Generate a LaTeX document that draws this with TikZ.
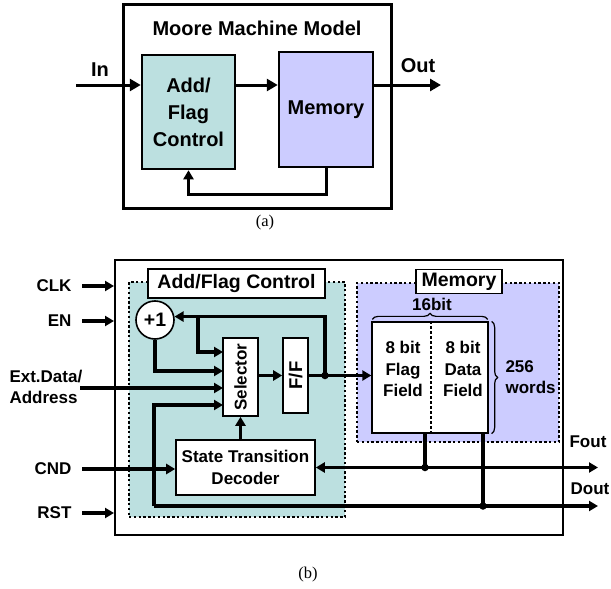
\documentclass[tikz,border=0pt]{standalone}
\usepackage{fontspec}
\setmainfont{Liberation Sans}
\newfontfamily\capserif{Liberation Serif}
\usetikzlibrary{arrows.meta,decorations.pathreplacing,calc}
\definecolor{ctlteal}{RGB}{188,224,224}
\definecolor{memlav}{RGB}{204,204,255}

\begin{document}
\begin{tikzpicture}[x=1pt,y=-1pt,
  fA/.style={font=\fontsize{20}{27}\selectfont\bfseries},
  fB/.style={font=\fontsize{17}{21.5}\selectfont\bfseries, align=center},
  fT/.style={font=\fontsize{19.5}{22}\selectfont\bfseries},
  fCap/.style={font=\fontsize{16.5}{18}\selectfont\capserif},
  blockA/.style={draw, line width=2.5pt, inner sep=0pt, align=center, fA},
  blockB/.style={draw, line width=1.6pt, fill=white, inner sep=0pt, fB},
  tagbox/.style={draw, line width=1.4pt, fill=white, inner sep=0pt, fT},
  wireA/.style={line width=3pt, -{Triangle[length=11pt,width=12pt]}},
  wireB/.style={line width=3.2pt},
  arrB/.style={wireB, -{Triangle[length=9pt,width=10pt]}},
  zone/.style={line width=2.4pt, dash pattern=on 2.4pt off 2.4pt},
  jdot/.style={circle, fill, inner sep=0pt, minimum size=7.5pt},
  bracestyle/.style={decorate, decoration={brace, amplitude=6pt}, line width=1.2pt}
]
\useasboundingbox (0,0) rectangle (611,589);

% ---------------- (a) Moore machine model ----------------
\node[draw, line width=3pt, minimum width=268pt, minimum height=204pt] (frameA) at (257,106) {};
\node[fA] (titleA) at (257,28) {Moore Machine Model};
\node[blockA, fill=ctlteal, minimum width=93pt, minimum height=114pt] (afc) at (188.5,112) {Add/\\Flag\\Control};
\node[blockA, fill=memlav, minimum width=94pt, minimum height=115pt] (amem) at (326,109.5) {Memory};

\coordinate (inA) at (76,85);
\coordinate (outA) at (441,85);
\coordinate (fbA) at (326,194);
\draw[wireA] (inA) -- (inA -| afc.west);
\draw[wireA] (inA -| afc.east) -- (inA -| amem.west);
\draw[wireA] (inA -| amem.east) -- (outA);
\draw[line width=3pt, -{Triangle[length=9pt,width=10pt]}] (amem.south) -- (fbA) -| (afc.south);

\node[fA] (inLbl) at (100,70) {In};
\node[fA] (outLbl) at (418,66) {Out};
\node[fCap] (capA) at (265,223) {(a)};

% ---------------- (b) implementation ----------------
\node[draw, line width=2pt, minimum width=448pt, minimum height=275pt] (frameB) at (339,397.5) {};
\node[zone, draw, fill=ctlteal, minimum width=216pt, minimum height=235pt] (ctlzone) at (237,399.5) {};
\node[zone, draw, fill=memlav, minimum width=202pt, minimum height=159pt] (memzone) at (458,362.5) {};
\node[tagbox, minimum width=177pt, minimum height=29pt] (ctltag) at (236.5,283.5) {Add/Flag Control};
\node[tagbox, minimum width=86pt, minimum height=24pt] (memtag) at (459,281.5) {Memory};

% blocks
\node[blockB, circle, minimum size=38pt, font=\fontsize{19.5}{22}\selectfont\bfseries] (plus1) at (155,320) {+1};
\node[blockB, minimum width=35pt, minimum height=78pt] (sel) at (240.5,377) {};
\node[fB, rotate=90] (seltxt) at (sel.center) {Selector};
\node[blockB, minimum width=25pt, minimum height=75pt] (ff) at (295.5,375.5) {};
\node[fB, rotate=90, font=\fontsize{18.5}{22}\selectfont\bfseries] (fftxt) at (ff.center) {F/F};
\node[blockB, minimum width=139pt, minimum height=55pt] (dec) at (245.5,467.5) {State Transition\\Decoder};
\node[blockB, line width=1.3pt, minimum width=116pt, minimum height=111pt] (mema) at (430,377.5) {};
\draw[line width=1.2pt, dash pattern=on 3pt off 2pt] ($(mema.north)+(1,0)$) -- ($(mema.south)+(1,0)$);
\node[fB] (flagtxt) at (403,369) {8 bit\\Flag\\Field};
\node[fB] (datatxt) at (463,369) {8 bit\\Data\\Field};

% braces
\draw[bracestyle] ($(mema.north west)+(1,-2)$) -- ($(mema.north east)+(-1,-2)$);
\draw[bracestyle] ($(mema.north east)+(3,0)$) -- ($(mema.south east)+(3,0)$);
\node[fB] (widthLbl) at (432,304) {16bit};
\node[fB, anchor=west, align=left] (depthLbl) at (502,377) {256\\words};

% external inputs
\node[fB, anchor=east] (clkL) at (75,286) {CLK};
\node[fB, anchor=east] (enL) at (75,321) {EN};
\node[fB, anchor=west, align=left] (extL) at (6,387) {Ext.Data/\\Address};
\node[fB, anchor=east] (cndL) at (75,469) {CND};
\node[fB, anchor=east] (rstL) at (75,513) {RST};

\coordinate (clkS) at (82,286);
\coordinate (enS) at (82,321);
\coordinate (extS) at (80,388);
\coordinate (cndS) at (82,469);
\coordinate (rstS) at (82,513);
\draw[arrB] (clkS) -- (clkS -| frameB.west);
\draw[arrB] (enS) -- (enS -| frameB.west);
\draw[arrB] (rstS) -- (rstS -| frameB.west);

% selector input ports
\coordinate (s1) at (223,352);
\coordinate (s2) at (223,371);
\coordinate (s3) at (223,388);
\coordinate (s4) at (223,405);

% junctions and bus points
\coordinate (j1) at (325,375.5);
\coordinate (j2) at (198,316.7);
\coordinate (j3) at (425,467.5);
\coordinate (j4) at (483,506);
\coordinate (dl) at (154,506);
\coordinate (foutE) at (598,467.5);
\coordinate (doutE) at (598,506);

% wiring
\draw[arrB] (extS) -- (s3);
\draw[wireB] (dl) -- (j4);
\draw[arrB] (j4) -- (doutE);
\draw[arrB] (dl) |- (s4);
\draw[arrB] (cndS) -- (cndS -| dec.west);
\draw[arrB] (plus1.south) |- (s2);
\draw[arrB] (j1) |- (plus1.10);
\draw[arrB] (j2) |- (s1);
\draw[arrB] (sel.east |- ff.west) -- (ff.west);
\draw[arrB] (ff.east) -- (ff.east -| mema.west);
\draw[arrB] (sel.south |- dec.north) -- (sel.south);
\draw[wireB] (j3 |- mema.south) -- (j3);
\draw[arrB] (j3) -- (j3 -| dec.east);
\draw[arrB] (j3) -- (foutE);
\draw[wireB] (j4 |- mema.south) -- (j4);

\node[jdot] (d1) at (j1) {};
\node[jdot] (d3) at (j3) {};
\node[jdot] (d4) at (j4) {};

\node[fB] (foutL) at (588,442) {Fout};
\node[fB] (doutL) at (590,489) {Dout};
\node[fCap] (capB) at (308,575) {(b)};
\end{tikzpicture}
\end{document}
